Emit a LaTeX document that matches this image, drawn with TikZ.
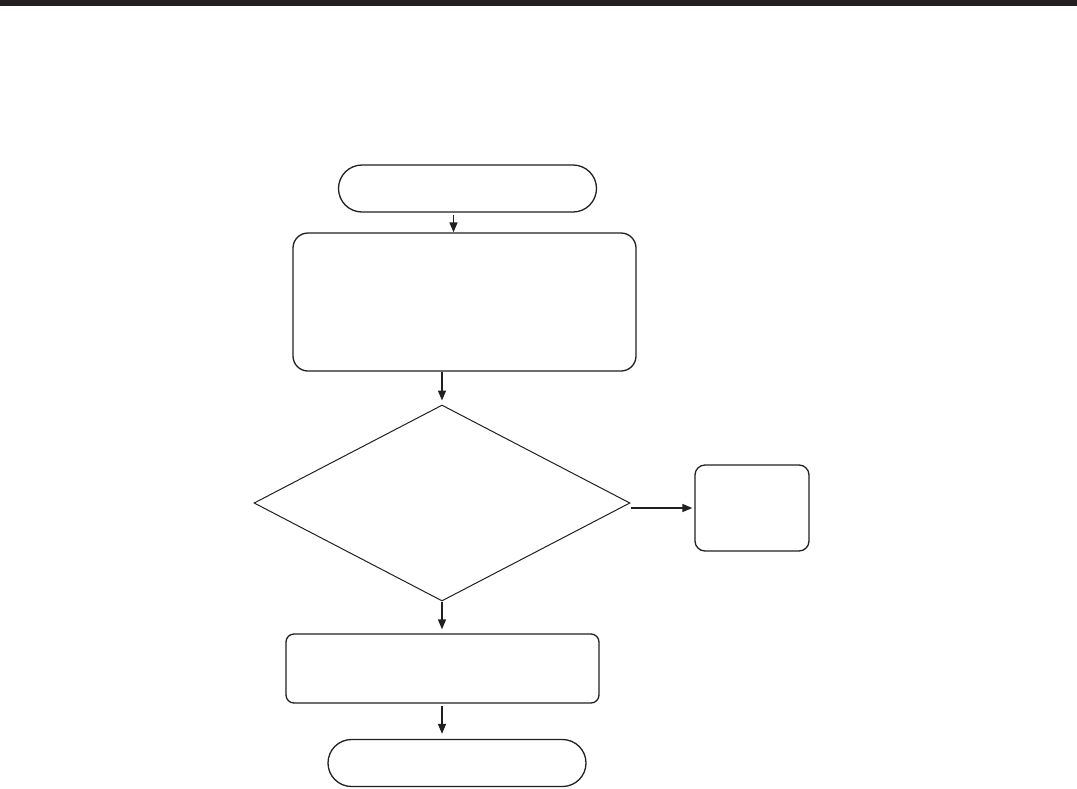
\documentclass[tikz,border=0pt]{standalone}
\usepackage{tikz}
\usetikzlibrary{shapes.geometric,shapes.misc,arrows.meta}
\definecolor{flowink}{HTML}{231F20}

\begin{document}
\begin{tikzpicture}[x=1pt,y=-1pt,
    every node/.style={draw=flowink,line width=1.3pt,inner sep=0pt},
    terminal/.style={rounded rectangle,minimum width=258pt,minimum height=47pt},
    procbox/.style={rectangle,rounded corners=#1},
    flowarr/.style={draw=flowink,line width=1.5pt,-{Triangle[length=10pt,width=8pt]}}]
    \useasboundingbox (0,0) rectangle (1077,788);
    \fill[flowink] (0,0) rectangle (1077,6);
    % shapes
    \node[terminal] (start) at (467.5,188.5) {};
    \node[procbox=15pt,minimum width=343pt,minimum height=138pt] (proc) at (464.5,302) {};
    \node[diamond,minimum width=376pt,minimum height=196pt,line width=1pt] (dia) at (442,503) {};
    \node[procbox=10pt,minimum width=114pt,minimum height=86pt] (side) at (752,508) {};
    \node[procbox=8pt,minimum width=313pt,minimum height=69pt] (act) at (442.5,668.5) {};
    \node[terminal] (stop) at (457,763) {};
    % connectors
    \draw[flowarr] ([xshift=-14pt,yshift=-2pt]start.south) -- ([xshift=-14pt]start.south |- proc.north);
    \draw[flowarr,shorten >=4pt] (dia.north |- proc.south) -- (dia.north);
    \draw[flowarr,shorten >=4pt] (dia.south) -- (dia.south |- act.north);
    \draw[flowarr,shorten <=2pt,shorten >=5pt] (dia.south |- act.south) -- (dia.south |- stop.north);
    \draw[flowarr,shorten >=2pt] (dia.east |- side.west) -- (side.west);
\end{tikzpicture}
\end{document}
